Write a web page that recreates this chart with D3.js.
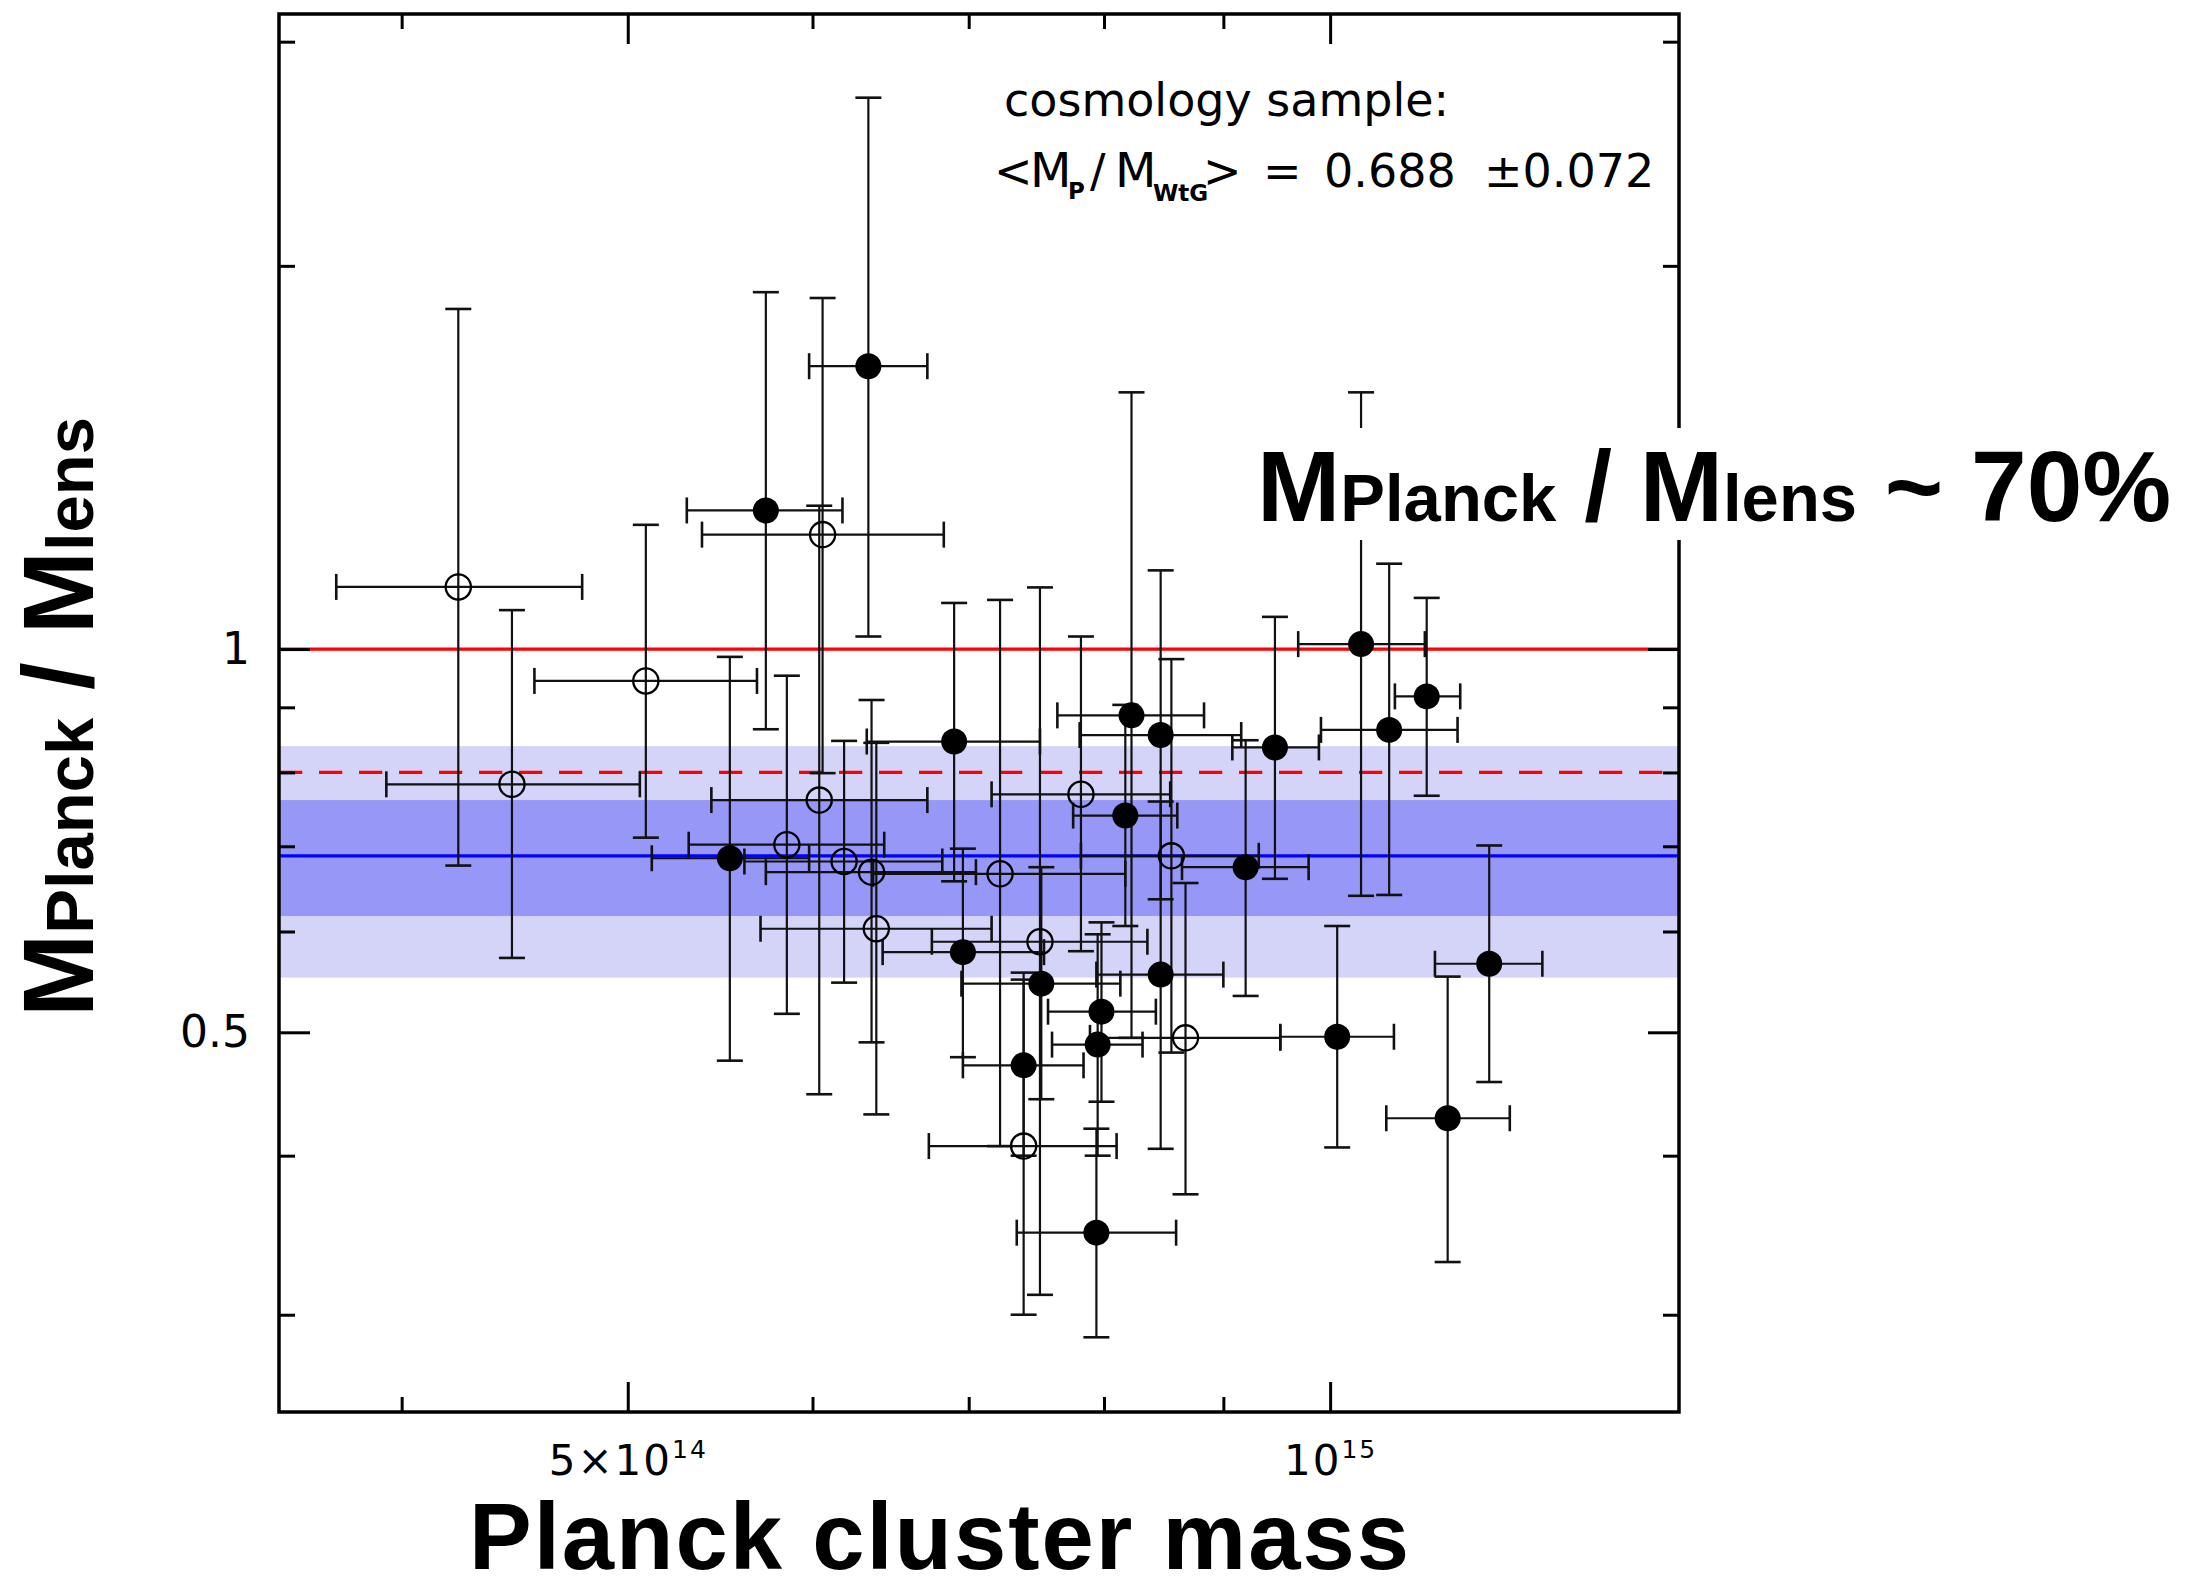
<!DOCTYPE html>
<html><head><meta charset="utf-8">
<script src="https://cdn.jsdelivr.net/npm/d3@7"></script>
<style>body{margin:0;background:#fff}</style>
</head><body>
<svg id="chart" width="2208" height="1590"></svg>
<script>
// ---- data (Planck mass in 1e14 Msun, ratio M_Planck / M_lens) ----
const markerType = ["open","open","open","open","open","open","open","open","open","open","open","open","open","open","open",
  "filled","filled","filled","filled","filled","filled","filled","filled","filled","filled","filled","filled","filled","filled","filled","filled","filled","filled","filled","filled","filled","filled"];
const mass   = [4.23,4.46,5.09,5.85,6.04,6.06,6.19,6.36,6.39,7.22,7.39,7.51,7.82,8.55,8.67,
  5.53,5.73,6.34,6.90,6.96,7.39,7.52,7.94,7.95,7.98,8.17,8.22,8.46,8.46,9.20,9.47,10.07,10.31,10.60,11.00,11.23,11.70];
const massLo = [3.75,3.94,4.56,5.31,5.43,5.38,5.61,5.73,5.70,6.37,6.73,6.75,7.16,7.82,7.89,
  5.12,5.30,5.98,6.33,6.43,6.96,6.95,7.34,7.60,7.57,7.76,7.64,7.81,7.94,8.64,9.08,9.52,9.69,9.91,10.66,10.57,11.09];
const massHi = [4.78,5.06,5.68,6.44,6.72,6.83,6.82,7.05,7.16,8.17,8.10,8.35,8.54,9.32,9.52,
  5.98,6.18,6.72,7.51,7.54,7.84,8.13,8.59,8.31,8.42,8.60,8.83,9.16,9.00,9.79,9.89,10.65,10.98,11.34,11.37,11.94,12.33];
const ratio   = [1.119,0.783,0.944,0.702,0.761,1.230,0.681,0.668,0.603,0.666,0.407,0.589,0.769,0.688,0.495,
  0.685,1.285,1.668,0.846,0.578,0.471,0.546,0.348,0.489,0.519,0.740,0.887,0.856,0.555,0.674,0.837,0.496,1.009,0.864,0.918,0.428,0.566];
const ratioLo = [0.676,0.572,0.711,0.517,0.447,0.799,0.547,0.491,0.431,0.407,0.300,0.311,0.579,0.482,0.373,
  0.475,0.865,1.023,0.657,0.478,0.400,0.443,0.288,0.400,0.441,0.606,0.495,0.636,0.405,0.534,0.660,0.406,0.640,0.641,0.767,0.330,0.457];
const ratioHi = [1.850,1.073,1.252,0.953,1.296,1.887,0.847,0.912,0.844,1.093,0.550,1.118,1.023,0.982,0.655,
  0.986,1.907,2.711,1.087,0.697,0.557,0.674,0.420,0.597,0.610,0.904,1.591,1.153,0.759,0.848,1.060,0.606,1.591,1.167,1.097,0.553,0.701];

const meanRatio = 0.688;
const band1 = [0.617, 0.761];
const band2 = [0.552, 0.839];
const unityLine = 1.0;
const dashedLine = 0.8;

const xDomain = [3.544, 14.11];
const yDomain = [0.2516, 3.154];
const xMajorTicks = [5, 10];
const xMinorTicks = [4, 6, 7, 8, 9];
const xTickLabels = [["5×10","14"], ["10","15"]];
const yMajorTicks = [0.5, 1];
const yMinorTicks = [0.3, 0.4, 0.6, 0.7, 0.8, 0.9, 2, 3];
const yTickLabels = ["0.5", "1"];

// ---- layout ----
const M = {left:279, right:1679, top:14, bottom:1412};
const svg = d3.select("#chart");
const x = d3.scaleLog().domain(xDomain).range([M.left, M.right]);
const y = d3.scaleLog().domain(yDomain).range([M.bottom, M.top]);

// bands
svg.append("rect").attr("x",M.left).attr("width",M.right-M.left)
  .attr("y",y(band2[1])).attr("height",y(band2[0])-y(band2[1])).attr("fill","#d4d4f9");
svg.append("rect").attr("x",M.left).attr("width",M.right-M.left)
  .attr("y",y(band1[1])).attr("height",y(band1[0])-y(band1[1])).attr("fill","#9797f7");

// reference lines
svg.append("line").attr("x1",M.left).attr("x2",M.right).attr("y1",y(unityLine)).attr("y2",y(unityLine))
  .attr("stroke","#ff0000").attr("stroke-width",3.2);
svg.append("line").attr("x1",M.left).attr("x2",M.right).attr("y1",y(dashedLine)).attr("y2",y(dashedLine))
  .attr("stroke","#ff0000").attr("stroke-width",3.2).attr("stroke-dasharray","23.3,16.7");
svg.append("line").attr("x1",M.left).attr("x2",M.right).attr("y1",y(meanRatio)).attr("y2",y(meanRatio))
  .attr("stroke","#0000ff").attr("stroke-width",3.2);

// points
const pts = mass.map((m,i)=>({m, mLo:massLo[i], mHi:massHi[i], r:ratio[i], rLo:ratioLo[i], rHi:ratioHi[i], open:markerType[i]==="open"}));
const cap = 13;
const eg = svg.append("g").attr("stroke","#111").attr("fill","none");
eg.selectAll("line.xe").data(pts).join("line").attr("class","xe")
  .attr("x1",d=>x(d.mLo)).attr("x2",d=>x(d.mHi)).attr("y1",d=>y(d.r)).attr("y2",d=>y(d.r)).attr("stroke-width",2.2);
eg.selectAll("line.ye").data(pts).join("line").attr("class","ye")
  .attr("x1",d=>x(d.m)).attr("x2",d=>x(d.m)).attr("y1",d=>y(d.rLo)).attr("y2",d=>y(d.rHi)).attr("stroke-width",2.2);
["mLo","mHi"].forEach(k=>{
  eg.selectAll("line.xc"+k).data(pts).join("line").attr("class","xc"+k)
    .attr("x1",d=>x(d[k])).attr("x2",d=>x(d[k])).attr("y1",d=>y(d.r)-cap).attr("y2",d=>y(d.r)+cap).attr("stroke-width",2.6);
});
["rLo","rHi"].forEach(k=>{
  eg.selectAll("line.yc"+k).data(pts).join("line").attr("class","yc"+k)
    .attr("x1",d=>x(d.m)-cap).attr("x2",d=>x(d.m)+cap).attr("y1",d=>y(d[k])).attr("y2",d=>y(d[k])).attr("stroke-width",2.6);
});
svg.append("g").selectAll("circle").data(pts).join("circle")
  .attr("cx",d=>x(d.m)).attr("cy",d=>y(d.r)).attr("r",d=>d.open?12.6:13)
  .attr("fill",d=>d.open?"none":"#000").attr("stroke","#000").attr("stroke-width",d=>d.open?2.3:0);

// axes (ticks pointing inward)
function styleAxis(g){
  g.select(".domain").remove();
  g.selectAll(".tick line").attr("stroke","#000").attr("stroke-width",3);
}
const tickFont = "'DejaVu Sans', sans-serif";
const xb = svg.append("g").attr("transform",`translate(0,${M.bottom})`)
  .call(d3.axisBottom(x).tickValues(xMajorTicks).tickSize(-30).tickSizeOuter(0).tickFormat((d,i)=>xTickLabels[i][0]))
  .call(styleAxis);
xb.attr("font-family",tickFont).attr("font-size",42);
xb.selectAll(".tick text").each(function(d,i){
  const t = d3.select(this);
  t.text(null).attr("y",63).attr("dy",null).attr("fill","#000").attr("letter-spacing",2);
  t.append("tspan").text(xTickLabels[i][0]);
  t.append("tspan").attr("dy",-17).attr("font-size",25).text(xTickLabels[i][1]);
});
svg.append("g").attr("transform",`translate(0,${M.bottom})`)
  .call(d3.axisBottom(x).tickValues(xMinorTicks).tickSize(-15).tickSizeOuter(0).tickFormat("")).call(styleAxis);
svg.append("g").attr("transform",`translate(0,${M.top})`)
  .call(d3.axisTop(x).tickValues(xMajorTicks).tickSize(-30).tickSizeOuter(0).tickFormat("")).call(styleAxis);
svg.append("g").attr("transform",`translate(0,${M.top})`)
  .call(d3.axisTop(x).tickValues(xMinorTicks).tickSize(-15).tickSizeOuter(0).tickFormat("")).call(styleAxis);

const yl = svg.append("g").attr("transform",`translate(${M.left},0)`)
  .call(d3.axisLeft(y).tickValues(yMajorTicks).tickSize(-31).tickSizeOuter(0).tickPadding(29).tickFormat((d,i)=>yTickLabels[i]))
  .call(styleAxis);
yl.attr("font-family",tickFont).attr("font-size",44);
yl.selectAll(".tick text").attr("fill","#000");
svg.append("g").attr("transform",`translate(${M.left},0)`)
  .call(d3.axisLeft(y).tickValues(yMinorTicks).tickSize(-16).tickSizeOuter(0).tickFormat("")).call(styleAxis);
svg.append("g").attr("transform",`translate(${M.right},0)`)
  .call(d3.axisRight(y).tickValues(yMajorTicks).tickSize(-31).tickSizeOuter(0).tickFormat("")).call(styleAxis);
svg.append("g").attr("transform",`translate(${M.right},0)`)
  .call(d3.axisRight(y).tickValues(yMinorTicks).tickSize(-16).tickSizeOuter(0).tickFormat("")).call(styleAxis);

// frame
svg.append("rect").attr("x",M.left).attr("y",M.top).attr("width",M.right-M.left).attr("height",M.bottom-M.top)
  .attr("fill","none").attr("stroke","#000").attr("stroke-width",3.5);

// cosmology sample text
const tf = "'DejaVu Sans', sans-serif";
svg.append("text").attr("x",1004).attr("y",116).attr("font-family",tf).attr("font-size",46).text("cosmology sample:");
const line2 = [
  {t:"<", x:994, y:187, s:46, w:"normal"},
  {t:"M", x:1030, y:187, s:48, w:"normal"},
  {t:"P", x:1068, y:199, s:23, w:"bold"},
  {t:"/", x:1090, y:187, s:46, w:"normal"},
  {t:"M", x:1115, y:187, s:48, w:"normal"},
  {t:"WtG", x:1153, y:201, s:23, w:"bold"},
  {t:">", x:1203, y:187, s:46, w:"normal"},
  {t:"=", x:1263, y:187, s:46, w:"normal"},
  {t:"0.688", x:1324, y:187, s:46, w:"normal"},
  {t:"±0.072", x:1484, y:187, s:46, w:"normal"}
];
svg.append("g").selectAll("text").data(line2).join("text")
  .attr("x",d=>d.x).attr("y",d=>d.y).attr("font-family",tf).attr("font-size",d=>d.s).attr("font-weight",d=>d.w).text(d=>d.t);

// big annotation with white backing
svg.append("rect").attr("x",1250).attr("y",428).attr("width",958).attr("height",112).attr("fill","#fff");
const bf = "'Liberation Sans', Arial, sans-serif";
function ratioLabel(sel, tail){
  sel.append("tspan").attr("font-size",100).text("M");
  sel.append("tspan").attr("font-size",67).text("Planck");
  sel.append("tspan").attr("font-size",100).text(" / M");
  sel.append("tspan").attr("font-size",67).text("lens");
  if (tail) sel.append("tspan").attr("font-size",100).text(tail);
}
const ann = svg.append("text").attr("x",1257).attr("y",521).attr("font-family",bf).attr("font-weight","bold").attr("xml:space","preserve");
ratioLabel(ann, " ~ 70%");

// axis titles
const yt = svg.append("text").attr("transform","translate(93,717) rotate(-90)").attr("text-anchor","middle")
  .attr("font-family",bf).attr("font-weight","bold");
ratioLabel(yt, null);
svg.append("text").attr("x",940).attr("y",1569).attr("text-anchor","middle").attr("font-family",bf)
  .attr("font-weight","bold").attr("font-size",94).attr("letter-spacing",2).text("Planck cluster mass");
</script>
</body></html>
